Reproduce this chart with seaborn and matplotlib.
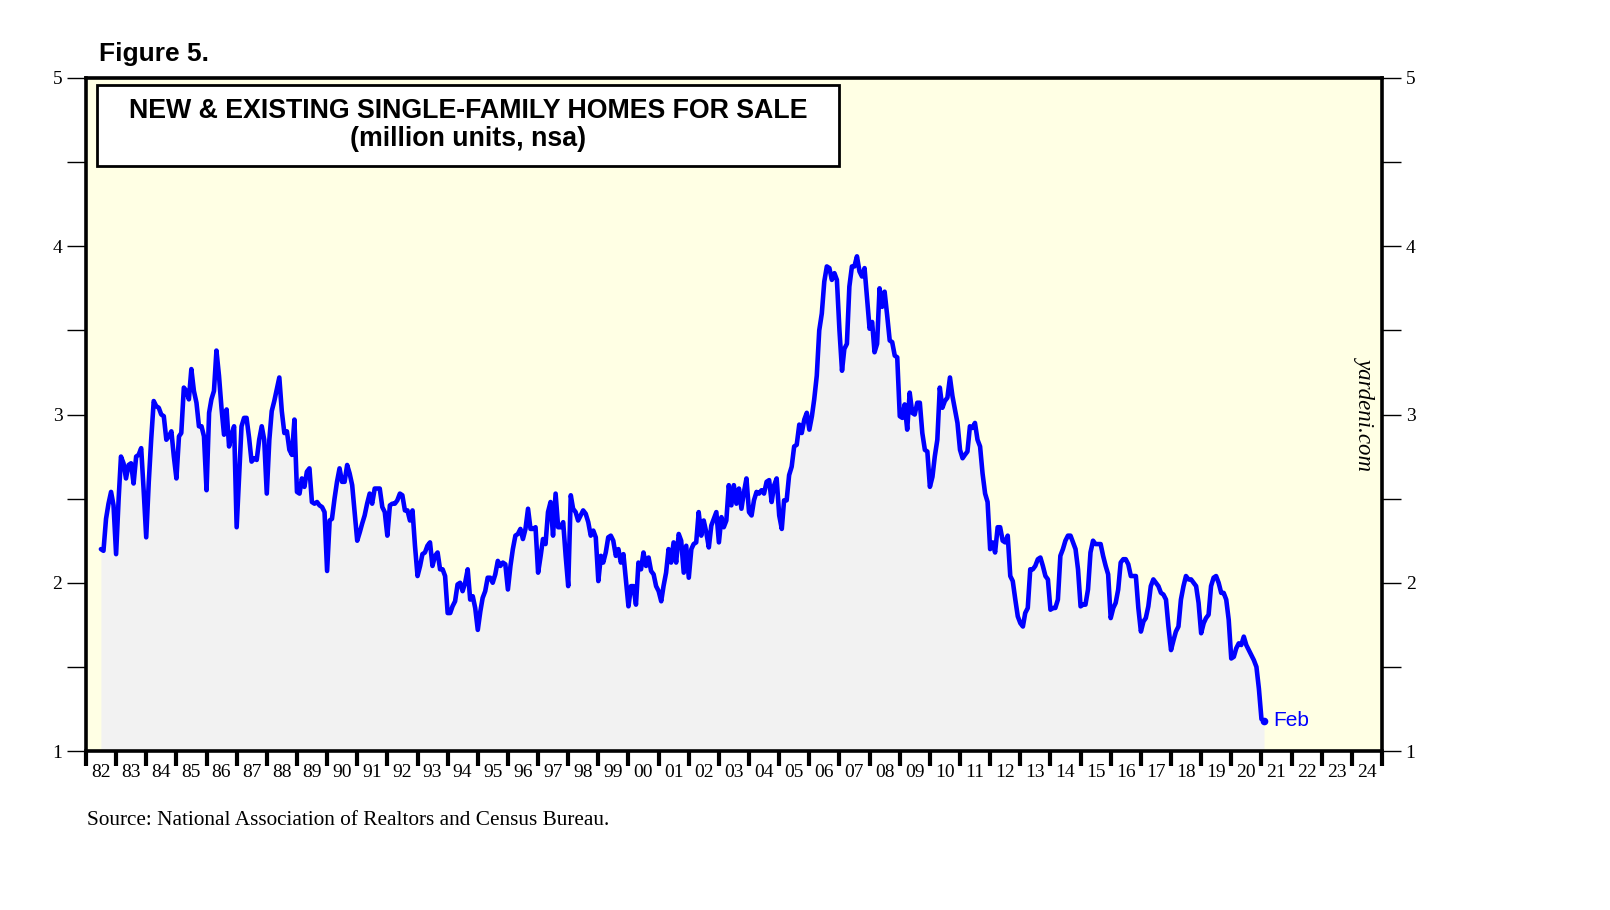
import pandas as pd
import matplotlib.pyplot as plt
import matplotlib.dates as mdates
import seaborn as sns
from matplotlib.patches import Rectangle
from matplotlib.ticker import MultipleLocator, NullFormatter, FormatStrFormatter

# monthly, million units, nsa, Jul 1982 .. Feb 2021
start_month = '1982-07-01'
homes_for_sale = [
    2.20, 2.19, 2.38, 2.47, 2.54, 2.46,                                      # 1982 (Jul-Dec)
    2.17, 2.50, 2.75, 2.71, 2.62, 2.70, 2.71, 2.59, 2.75, 2.76, 2.80, 2.55,  # 1983
    2.27, 2.60, 2.85, 3.08, 3.05, 3.04, 3.00, 2.99, 2.85, 2.87, 2.90, 2.75,  # 1984
    2.62, 2.87, 2.89, 3.16, 3.14, 3.09, 3.27, 3.14, 3.07, 2.93, 2.93, 2.87,  # 1985
    2.55, 3.01, 3.09, 3.14, 3.38, 3.23, 3.04, 2.88, 3.03, 2.81, 2.88, 2.93,  # 1986
    2.33, 2.65, 2.93, 2.98, 2.98, 2.86, 2.72, 2.74, 2.73, 2.85, 2.93, 2.85,  # 1987
    2.53, 2.85, 3.02, 3.08, 3.15, 3.22, 3.02, 2.89, 2.90, 2.79, 2.76, 2.97,  # 1988
    2.54, 2.53, 2.62, 2.57, 2.66, 2.68, 2.48, 2.47, 2.48, 2.46, 2.45, 2.42,  # 1989
    2.07, 2.37, 2.38, 2.50, 2.60, 2.68, 2.60, 2.60, 2.70, 2.65, 2.58, 2.42,  # 1990
    2.25, 2.30, 2.35, 2.40, 2.47, 2.53, 2.47, 2.56, 2.56, 2.56, 2.45, 2.42,  # 1991
    2.28, 2.46, 2.47, 2.47, 2.49, 2.53, 2.52, 2.43, 2.43, 2.37, 2.43, 2.22,  # 1992
    2.04, 2.10, 2.17, 2.18, 2.22, 2.24, 2.10, 2.16, 2.18, 2.08, 2.08, 2.04,  # 1993
    1.82, 1.82, 1.86, 1.89, 1.99, 2.00, 1.95, 2.00, 2.08, 1.90, 1.92, 1.85,  # 1994
    1.72, 1.83, 1.91, 1.95, 2.03, 2.03, 2.00, 2.05, 2.13, 2.10, 2.12, 2.11,  # 1995
    1.96, 2.10, 2.20, 2.28, 2.29, 2.32, 2.26, 2.32, 2.44, 2.32, 2.32, 2.33,  # 1996
    2.06, 2.16, 2.26, 2.23, 2.42, 2.48, 2.28, 2.53, 2.33, 2.33, 2.36, 2.16,  # 1997
    1.98, 2.52, 2.44, 2.42, 2.37, 2.40, 2.43, 2.41, 2.36, 2.28, 2.31, 2.27,  # 1998
    2.01, 2.16, 2.12, 2.18, 2.27, 2.28, 2.25, 2.16, 2.20, 2.12, 2.17, 2.02,  # 1999
    1.86, 1.98, 1.98, 1.87, 2.12, 2.08, 2.18, 2.10, 2.15, 2.07, 2.05, 1.98,  # 2000
    1.95, 1.89, 1.98, 2.06, 2.20, 2.12, 2.24, 2.12, 2.29, 2.25, 2.06, 2.22,  # 2001
    2.03, 2.20, 2.23, 2.24, 2.42, 2.28, 2.37, 2.30, 2.21, 2.34, 2.38, 2.42,  # 2002
    2.24, 2.39, 2.33, 2.37, 2.58, 2.46, 2.58, 2.47, 2.56, 2.44, 2.54, 2.62,  # 2003
    2.42, 2.40, 2.49, 2.54, 2.53, 2.55, 2.53, 2.60, 2.61, 2.48, 2.58, 2.62,  # 2004
    2.40, 2.32, 2.49, 2.49, 2.64, 2.69, 2.81, 2.82, 2.94, 2.89, 2.97, 3.01,  # 2005
    2.91, 2.99, 3.09, 3.23, 3.50, 3.60, 3.79, 3.88, 3.87, 3.80, 3.84, 3.80,  # 2006
    3.50, 3.26, 3.39, 3.42, 3.76, 3.88, 3.88, 3.94, 3.85, 3.82, 3.87, 3.69,  # 2007
    3.51, 3.55, 3.37, 3.42, 3.75, 3.64, 3.73, 3.59, 3.44, 3.43, 3.35, 3.34,  # 2008
    2.99, 2.98, 3.06, 2.91, 3.13, 3.01, 3.00, 3.07, 3.07, 2.89, 2.79, 2.78,  # 2009
    2.57, 2.63, 2.75, 2.85, 3.16, 3.04, 3.08, 3.10, 3.22, 3.11, 3.03, 2.95,  # 2010
    2.79, 2.74, 2.76, 2.78, 2.93, 2.92, 2.95, 2.85, 2.81, 2.65, 2.53, 2.48,  # 2011
    2.20, 2.24, 2.18, 2.33, 2.33, 2.25, 2.24, 2.28, 2.04, 2.01, 1.90, 1.80,  # 2012
    1.76, 1.74, 1.82, 1.85, 2.08, 2.08, 2.10, 2.14, 2.15, 2.10, 2.04, 2.02,  # 2013
    1.84, 1.85, 1.85, 1.90, 2.16, 2.20, 2.25, 2.28, 2.28, 2.24, 2.20, 2.08,  # 2014
    1.86, 1.87, 1.87, 1.96, 2.18, 2.25, 2.23, 2.23, 2.23, 2.16, 2.10, 2.05,  # 2015
    1.79, 1.85, 1.88, 1.96, 2.12, 2.14, 2.14, 2.11, 2.04, 2.04, 2.04, 1.85,  # 2016
    1.71, 1.77, 1.79, 1.86, 1.98, 2.02, 2.00, 1.98, 1.94, 1.93, 1.90, 1.74,  # 2017
    1.60, 1.66, 1.71, 1.74, 1.90, 1.98, 2.04, 2.02, 2.02, 2.00, 1.98, 1.88,  # 2018
    1.70, 1.76, 1.79, 1.81, 1.98, 2.03, 2.04, 2.00, 1.94, 1.94, 1.90, 1.78,  # 2019
    1.55, 1.56, 1.61, 1.64, 1.63, 1.68, 1.63, 1.60, 1.57, 1.54, 1.50, 1.37,  # 2020
    1.19, 1.18,                                                              # 2021 (Jan-Feb)
]
x_start, x_end = '1982-01-01', '2025-01-01'
y_min, y_max = 1, 5
last_label = 'Feb'

title_1 = 'NEW & EXISTING SINGLE-FAMILY HOMES FOR SALE'
title_2 = '(million units, nsa)'
source = 'Source: National Association of Realtors and Census Bureau.'

df = pd.DataFrame({
    'date': pd.date_range(start_month, periods=len(homes_for_sale), freq='MS'),
    'units': homes_for_sale,
})

sns.set_style('white')
plt.rcParams['font.family'] = ['Liberation Serif', 'DejaVu Serif']
plt.rcParams['text.color'] = 'black'
plt.rcParams['xtick.color'] = 'black'
plt.rcParams['ytick.color'] = 'black'

fig = plt.figure(figsize=(16.1, 9.1), dpi=100)
ax = fig.add_axes([0.0534, 0.1747, 0.805, 0.7396])
ax.set_facecolor('#ffffe4')

ax.fill_between(df['date'], df['units'], y_min, color='#f2f2f2', linewidth=0, zorder=1)
sns.lineplot(data=df, x='date', y='units', ax=ax, color='#0000ff', linewidth=3.3, zorder=3)

last = df.iloc[-1]
ax.plot([last['date']], [last['units']], 'o', color='#0000ff', markersize=4.5, zorder=4)
ax.annotate(last_label, (last['date'], last['units']), xytext=(7, 0), textcoords='offset points',
            color='#0000ff', fontsize=15, family='Liberation Sans', va='center', ha='left')

# x axis: thick ticks at year starts, 2-digit labels centred in each year
ax.set_xlim(pd.Timestamp(x_start), pd.Timestamp(x_end))
ax.xaxis.set_major_locator(mdates.YearLocator(1))
ax.xaxis.set_major_formatter(NullFormatter())
ax.xaxis.set_minor_locator(mdates.MonthLocator(bymonth=7, bymonthday=1))
ax.xaxis.set_minor_formatter(mdates.DateFormatter('%y'))
ax.tick_params(axis='x', which='major', direction='out', length=11, width=3, color='black',
               bottom=True, top=False)
ax.tick_params(axis='x', which='minor', length=0, pad=9, labelsize=14, bottom=True,
               labelcolor='black')

# y axis on both sides
ax.set_ylim(y_min, y_max)
ax.yaxis.set_major_locator(MultipleLocator(1))
ax.yaxis.set_minor_locator(MultipleLocator(0.5))
ax.yaxis.set_major_formatter(FormatStrFormatter('%d'))
ax.tick_params(axis='y', which='both', direction='out', length=14, width=1, color='black',
               left=True, right=True, labelleft=True, labelright=True, labelsize=14, pad=3,
               labelcolor='black')

ax.set_xlabel('')
ax.set_ylabel('')
for s in ax.spines.values():
    s.set_visible(True)
    s.set_color('black')
    s.set_linewidth(2.6)
    s.set_zorder(6)

# title box
ax.add_patch(Rectangle((0.0085, 0.869), 0.5723, 0.1206, transform=ax.transAxes,
                       facecolor='white', edgecolor='black', linewidth=2.0, zorder=5))
ax.text(0.2947, 0.951, title_1, transform=ax.transAxes, ha='center', va='center',
        fontsize=19.3, weight='bold', family='Liberation Sans', zorder=6)
ax.text(0.2947, 0.909, title_2, transform=ax.transAxes, ha='center', va='center',
        fontsize=19.3, weight='bold', family='Liberation Sans', zorder=6)

ax.text(0.9869, 0.502, 'yardeni.com', transform=ax.transAxes, rotation=-90,
        ha='center', va='center', fontsize=16.5, style='italic')

fig.text(0.0615, 0.941, 'Figure 5.', fontsize=19, weight='bold', family='Liberation Sans', va='center')
fig.text(0.054, 0.098, source, fontsize=15.3, va='center')

fig.savefig('out.png', dpi=100)
